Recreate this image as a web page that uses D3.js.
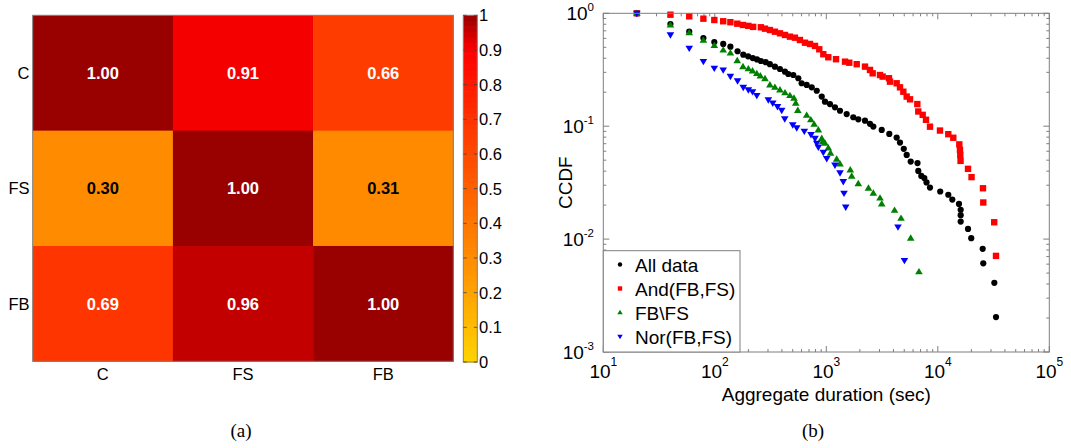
<!DOCTYPE html>
<html><head><meta charset="utf-8">
<script src="https://cdn.jsdelivr.net/npm/d3@7"></script>
<style>body{margin:0;background:#fff}svg{display:block}</style>
</head><body><svg id="c" width="1071" height="448"></svg>
<script>
// ---------- Data: heatmap (a) ----------
const heatRows = ["C", "FS", "FB"];
const heatCols = ["C", "FS", "FB"];
const rowC  = [1.00, 0.91, 0.66];
const rowFS = [0.30, 1.00, 0.31];
const rowFB = [0.69, 0.96, 1.00];
const colorbarTicks = [0, 0.1, 0.2, 0.3, 0.4, 0.5, 0.6, 0.7, 0.8, 0.9, 1];

// ---------- Data: CCDF (b) ----------
const allX = [20,40,59,79,99,119,138,160,180,199,219,239,259,286,312,346,384,426,456,506,561,601,667,740,821,910,973,1079,1196,1327,1523,1746,1936,2223,2465,2641,3141,3674,4276,4580,4953,5260,5715,6577,6683,7110,7570,7920,8511,10510,12420,13490,15490,16040,16040,16040,18660,19950,25270,25580,32140,33270];
const allY = [1,0.804,0.687,0.604,0.557,0.535,0.506,0.461,0.430,0.416,0.401,0.390,0.378,0.369,0.354,0.337,0.321,0.304,0.290,0.284,0.266,0.240,0.232,0.221,0.206,0.183,0.165,0.157,0.147,0.137,0.128,0.120,0.115,0.112,0.105,0.0992,0.0927,0.0855,0.0793,0.0716,0.063,0.0557,0.0486,0.0471,0.0402,0.0363,0.0347,0.0318,0.0286,0.0264,0.0247,0.0224,0.0205,0.0182,0.0163,0.0143,0.0123,0.0102,0.0082,0.0061,0.0041,0.00204];

const andX = [20,40,59,79,99,119,138,159,179,200,221,259,282,312,346,384,426,472,523,580,644,714,792,865,940,1042,1222,1472,1607,1874,2223,2465,2606,3031,3204,3648,3725,4276,4580,4908,5260,5636,6550,6683,7320,7838,8511,10460,12420,13770,15590,15810,15900,16000,18660,20070,25420,25580,32060,33270];
const andY = [1,0.972,0.94,0.896,0.872,0.85,0.834,0.809,0.788,0.774,0.758,0.752,0.731,0.711,0.687,0.665,0.643,0.621,0.608,0.580,0.549,0.535,0.514,0.480,0.434,0.408,0.392,0.373,0.365,0.354,0.337,0.315,0.294,0.284,0.275,0.266,0.248,0.240,0.221,0.202,0.183,0.173,0.157,0.135,0.126,0.114,0.099,0.0915,0.085,0.079,0.069,0.0617,0.0557,0.0493,0.0419,0.0354,0.0282,0.0211,0.0141,0.0071];

const fbX = [20,40,59,79,99,119,138,159,179,200,218,238,256,282,312,346,384,426,472,513,532,555,667,726,778,848,910,929,973,1042,1091,1239,1327,1641,1690,1936,2388,2641,3031,3141,4093,4680,5715,6775];
const fbY = [1,0.788,0.674,0.577,0.519,0.473,0.445,0.381,0.337,0.323,0.309,0.293,0.279,0.264,0.232,0.221,0.210,0.198,0.187,0.177,0.160,0.138,0.125,0.114,0.104,0.0927,0.078,0.0731,0.0707,0.0643,0.0577,0.0511,0.0464,0.0410,0.0361,0.0310,0.0283,0.0255,0.0231,0.0205,0.0180,0.0153,0.0102,0.00514];

const norX = [20,40,59,79,99,119,138,160,180,200,218,238,302,331,365,398,424,500,543,635,729,792,821,848,940,1009,1196,1327,1420,1442,1493,4395,5020];
const norY = [1,0.645,0.490,0.3745,0.326,0.315,0.276,0.252,0.221,0.210,0.202,0.187,0.171,0.160,0.149,0.138,0.116,0.1027,0.0966,0.0903,0.0843,0.078,0.0707,0.0653,0.0586,0.0516,0.0452,0.0386,0.0323,0.0255,0.0192,0.0128,0.00647];

const seriesNames = ["All data", "And(FB,FS)", "FB\\FS", "Nor(FB,FS)"];
const xTickExps = [1, 2, 3, 4, 5];
const yTickExps = [0, -1, -2, -3];

// ---------- Drawing ----------
const svg = d3.select("#c");
const FONT = "'Liberation Sans', Arial, Helvetica, sans-serif";
const frameColor = "#7f7f7f";

// ===== (a) heatmap =====
const hm = { x0: 32.7, x1: 453.3, y0: 15.3, y1: 361.3 };
const hx = d3.scaleBand().domain(heatCols).range([hm.x0, hm.x1]);
const hy = d3.scaleBand().domain(heatRows).range([hm.y0, hm.y1]);
const color = d3.scaleLinear()
  .domain([0, 0.3, 0.66, 0.9, 1])
  .range(["#ffd400", "#ff8c00", "#ff3c00", "#ff0000", "#990000"]);

const matrix = [rowC, rowFS, rowFB];
const cells = [];
heatRows.forEach((r, i) => heatCols.forEach((c, j) => cells.push({ r, c, v: matrix[i][j] })));

const gA = svg.append("g");
gA.selectAll("rect.cell").data(cells).enter().append("rect")
  .attr("x", d => hx(d.c)).attr("y", d => hy(d.r))
  .attr("width", hx.bandwidth() + 0.5).attr("height", hy.bandwidth() + 0.5)
  .attr("fill", d => color(d.v));
gA.append("rect").attr("x", hm.x0).attr("y", hm.y0)
  .attr("width", hm.x1 - hm.x0).attr("height", hm.y1 - hm.y0)
  .attr("fill", "none").attr("stroke", frameColor).attr("stroke-width", 1);
gA.selectAll("text.val").data(cells).enter().append("text")
  .attr("x", d => hx(d.c) + hx.bandwidth() / 2)
  .attr("y", d => hy(d.r) + hy.bandwidth() / 2)
  .attr("dy", "0.36em")
  .attr("text-anchor", "middle")
  .attr("font-family", FONT).attr("font-size", 16.5).attr("font-weight", "bold")
  .attr("fill", d => d.v > 0.5 ? "#ffffff" : "#000000")
  .text(d => d.v.toFixed(2));
gA.selectAll("text.rl").data(heatRows).enter().append("text")
  .attr("x", 29.5).attr("y", d => hy(d) + hy.bandwidth() / 2).attr("dy", "0.36em")
  .attr("text-anchor", "end").attr("font-family", FONT).attr("font-size", 16.5)
  .attr("fill", "#000").text(d => d);
gA.selectAll("text.cl").data(heatCols).enter().append("text")
  .attr("x", d => hx(d) + hx.bandwidth() / 2).attr("y", 379.5)
  .attr("text-anchor", "middle").attr("font-family", FONT).attr("font-size", 16.5)
  .attr("fill", "#000").text(d => d);

// colorbar
const cb = { x0: 463.3, x1: 477.3, y0: 15.3, y1: 362 };
const cy = d3.scaleLinear().domain([0, 1]).range([cb.y1, cb.y0]);
const nSteps = 64;
const steps = d3.range(nSteps).map(i => i / nSteps);
gA.selectAll("rect.cb").data(steps).enter().append("rect")
  .attr("x", cb.x0).attr("width", cb.x1 - cb.x0)
  .attr("y", d => cy(d + 1 / nSteps)).attr("height", (cb.y1 - cb.y0) / nSteps + 0.6)
  .attr("fill", d => color(d + 0.5 / nSteps));
gA.append("rect").attr("x", cb.x0).attr("y", cb.y0)
  .attr("width", cb.x1 - cb.x0).attr("height", cb.y1 - cb.y0)
  .attr("fill", "none").attr("stroke", frameColor).attr("stroke-width", 1);
const cbt = gA.selectAll("g.cbt").data(colorbarTicks).enter().append("g");
cbt.append("line").attr("x1", cb.x0).attr("x2", cb.x0 + 3.5)
  .attr("y1", d => cy(d)).attr("y2", d => cy(d)).attr("stroke", "#444").attr("stroke-width", 0.8);
cbt.append("line").attr("x1", cb.x1).attr("x2", cb.x1 - 3.5)
  .attr("y1", d => cy(d)).attr("y2", d => cy(d)).attr("stroke", "#444").attr("stroke-width", 0.8);
cbt.append("text").attr("x", 479).attr("y", d => cy(d)).attr("dy", "0.36em")
  .attr("font-family", FONT).attr("font-size", 16.5).attr("fill", "#000")
  .text(d => d === 0 || d === 1 ? String(d) : d.toFixed(1));

svg.append("text").attr("x", 241).attr("y", 437).attr("text-anchor", "middle")
  .attr("font-family", "'Liberation Serif', 'DejaVu Serif', serif").attr("font-size", 19)
  .text("(a)");

// ===== (b) CCDF =====
const pb = { x0: 603.3, x1: 1049.3, y0: 13.3, y1: 352 };
const x = d3.scaleLog().domain([10, 1e5]).range([pb.x0, pb.x1]);
const y = d3.scaleLog().domain([1e-3, 1]).range([pb.y1, pb.y0]);
const gB = svg.append("g");

// ticks (all four sides, inward)
const isMajor = v => Math.abs(Math.log10(v) - Math.round(Math.log10(v))) < 1e-9;
const xt = x.ticks();
const yt = y.ticks();
const tickG = gB.append("g").attr("stroke", frameColor).attr("stroke-width", 1);
xt.forEach(v => {
  const L = isMajor(v) ? 6 : 3;
  tickG.append("line").attr("x1", x(v)).attr("x2", x(v)).attr("y1", pb.y1).attr("y2", pb.y1 - L);
  tickG.append("line").attr("x1", x(v)).attr("x2", x(v)).attr("y1", pb.y0).attr("y2", pb.y0 + L);
});
yt.forEach(v => {
  const L = isMajor(v) ? 6 : 3;
  tickG.append("line").attr("y1", y(v)).attr("y2", y(v)).attr("x1", pb.x0).attr("x2", pb.x0 + L);
  tickG.append("line").attr("y1", y(v)).attr("y2", y(v)).attr("x1", pb.x1).attr("x2", pb.x1 - L);
});

// tick labels
xTickExps.forEach(e => {
  const t = gB.append("text").attr("x", x(Math.pow(10, e))).attr("y", 378.3)
    .attr("text-anchor", "middle").attr("font-family", FONT).attr("font-size", 19).attr("fill", "#000");
  t.append("tspan").text("10");
  t.append("tspan").attr("dy", -12).attr("font-size", 12).text(String(e));
});
yTickExps.forEach(e => {
  const t = gB.append("text").attr("x", 594).attr("y", y(Math.pow(10, e)) + 6.8)
    .attr("text-anchor", "end").attr("font-family", FONT).attr("font-size", 19).attr("fill", "#000");
  t.append("tspan").text("10");
  t.append("tspan").attr("dy", -8.8).attr("font-size", 11.5).text(String(e));
});

// axis titles
gB.append("text").attr("x", (pb.x0 + pb.x1) / 2).attr("y", 401)
  .attr("text-anchor", "middle").attr("font-family", FONT).attr("font-size", 19)
  .text("Aggregate duration (sec)");
gB.append("text").attr("transform", `translate(572,${(pb.y0 + pb.y1) / 2}) rotate(-90)`)
  .attr("text-anchor", "middle").attr("font-family", FONT).attr("font-size", 19)
  .text("CCDF");

// markers
function markerPath(type, s) {
  if (type === "square") return `M${-s/2},${-s/2}h${s}v${s}h${-s}Z`;
  if (type === "up") { const h = s * 0.84; return `M0,${-h*0.6}L${s/2},${h*0.4}L${-s/2},${h*0.4}Z`; }
  if (type === "down") { const h = s * 0.84; return `M0,${h*0.6}L${s/2},${-h*0.4}L${-s/2},${-h*0.4}Z`; }
  return null;
}
const series = [
  { name: seriesNames[0], xs: allX, ys: allY, type: "circle", col: "#000000" },
  { name: seriesNames[1], xs: andX, ys: andY, type: "square", col: "#ff0000" },
  { name: seriesNames[2], xs: fbX,  ys: fbY,  type: "up",     col: "#008000" },
  { name: seriesNames[3], xs: norX, ys: norY, type: "down",   col: "#0000ff" }
];
const markG = gB.append("g");
series.forEach(s => {
  const pts = s.xs.map((v, i) => [v, s.ys[i]]);
  if (s.type === "circle") {
    markG.append("g").selectAll("circle").data(pts).enter().append("circle")
      .attr("cx", d => x(d[0])).attr("cy", d => y(d[1])).attr("r", 3.1).attr("fill", s.col);
  } else {
    const sz = s.type === "square" ? 6.4 : 7.6;
    markG.append("g").selectAll("path").data(pts).enter().append("path")
      .attr("transform", d => `translate(${x(d[0])},${y(d[1])})`)
      .attr("d", markerPath(s.type, sz)).attr("fill", s.col);
  }
});

// frame
gB.append("rect").attr("x", pb.x0).attr("y", pb.y0)
  .attr("width", pb.x1 - pb.x0).attr("height", pb.y1 - pb.y0)
  .attr("fill", "none").attr("stroke", frameColor).attr("stroke-width", 1);

// legend
const lg = gB.append("g");
lg.append("rect").attr("x", pb.x0).attr("y", 250.7).attr("width", 740 - pb.x0).attr("height", pb.y1 - 250.7)
  .attr("fill", "#fff").attr("stroke", frameColor).attr("stroke-width", 1);
series.forEach((s, i) => {
  const by = 271.5 + i * 24;
  if (s.type === "circle") {
    lg.append("circle").attr("cx", 620).attr("cy", by - 7).attr("r", 2.2).attr("fill", s.col);
  } else {
    lg.append("path").attr("transform", `translate(620,${by - 7})`)
      .attr("d", markerPath(s.type, s.type === "square" ? 4.4 : 5.4)).attr("fill", s.col);
  }
  lg.append("text").attr("x", 635).attr("y", by).attr("font-family", FONT).attr("font-size", 19)
    .attr("fill", "#000").text(s.name);
});

svg.append("text").attr("x", 813).attr("y", 437).attr("text-anchor", "middle")
  .attr("font-family", "'Liberation Serif', 'DejaVu Serif', serif").attr("font-size", 19)
  .text("(b)");
</script></body></html>
